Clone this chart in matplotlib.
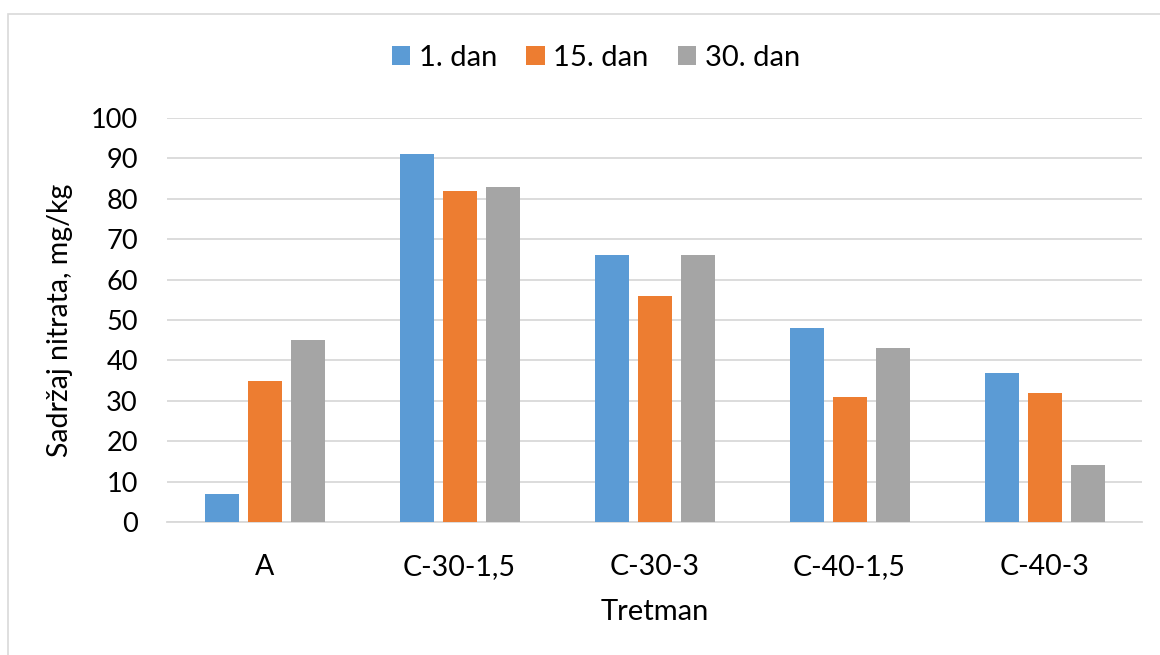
import matplotlib
matplotlib.use("Agg")
import matplotlib.pyplot as plt
from matplotlib.patches import Rectangle
import numpy as np

categories = ["A", "C-30-1,5", "C-30-3", "C-40-1,5", "C-40-3"]
series_names = ["1. dan", "15. dan", "30. dan"]
day1 = [7, 91, 66, 48, 37]
day15 = [35, 82, 56, 31, 32]
day30 = [45, 83, 66, 43, 14]
yticks = [0, 10, 20, 30, 40, 50, 60, 70, 80, 90, 100]
colors = ["#5B9BD5", "#ED7D31", "#A5A5A5"]

plt.rcParams['font.family'] = ['Lato', 'DejaVu Sans']

W, H = 1160, 655
fig = plt.figure(figsize=(W / 100, H / 100), dpi=100)
ax = fig.add_axes([167 / W, 1 - 522 / H, (1142 - 167) / W, (522 - 118) / H])

# chart area border (left and top visible)
fig.patches.append(Rectangle((8 / W, -0.1), 1.2, 1 - 14 / H + 0.1, transform=fig.transFigure,
                             fill=False, edgecolor="#D9D9D9", linewidth=1.2, zorder=0))

x = np.arange(len(categories))
bw = 34 / 195
step = 43 / 195
for i, (vals, name) in enumerate(zip([day1, day15, day30], series_names)):
    ax.bar(x + (i - 1) * step, vals, width=bw, color=colors[i], label=name, zorder=3)

ax.set_xlim(-0.5, len(categories) - 0.5)
ax.set_ylim(0, 100)
ax.set_yticks(yticks)
ax.set_xticks(x)
ax.set_xticklabels(categories)
ax.tick_params(axis='both', length=0, colors="#000000")
ax.tick_params(axis='x', pad=23, labelsize=20.5)
ax.tick_params(axis='y', pad=21, labelsize=19.5)
ax.grid(axis='y', color="#D9D9D9", linewidth=1.3, zorder=0)
for s in ["top", "right", "left"]:
    ax.spines[s].set_visible(False)
ax.spines["bottom"].set_color("#D9D9D9")
ax.spines["bottom"].set_linewidth(1.3)

ax.set_ylabel("Sadržaj nitrata, mg/kg", fontsize=20.5, labelpad=13)
ax.set_xlabel("Tretman", fontsize=21, labelpad=14)

leg = fig.legend(loc="center", bbox_to_anchor=(596 / W, 1 - 58 / H), ncol=3, frameon=False,
                 fontsize=21, handlelength=0.62, handleheight=0.62, handletextpad=0.3,
                 columnspacing=1.0, borderpad=0.0)

fig.savefig("out.png", dpi=100)
